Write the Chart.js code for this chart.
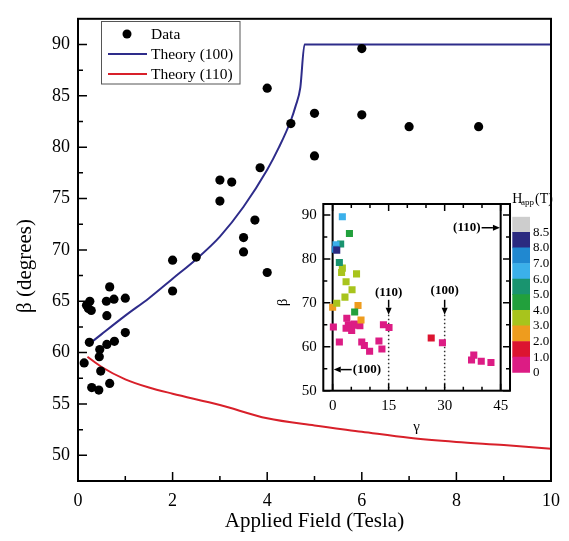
<!DOCTYPE html>
<html>
<head>
<meta charset="utf-8">
<script src="https://cdn.jsdelivr.net/npm/chart.js@4.4.0/dist/chart.umd.min.js"></script>
<style>
  body { margin: 0; background: #fff; }
  #wrap { position: relative; width: 569px; height: 541px; }
  canvas { position: absolute; }
</style>
</head>
<body>
<div id="wrap">
  <canvas id="main" width="569" height="541" style="left:0;top:0;width:569px;height:541px"></canvas>
  <canvas id="inset" width="245" height="255" style="left:270px;top:185px;width:245px;height:255px"></canvas>
  <canvas id="bar" width="69" height="200" style="left:500px;top:185px;width:69px;height:200px"></canvas>
</div>
<script>
// main plot: measured beta vs applied field
const fieldData = [0.13, 0.18, 0.22, 0.25, 0.28, 0.24, 0.29, 0.44, 0.46, 0.45, 0.48, 0.6, 0.61, 0.61, 0.67, 0.67, 0.76, 0.77, 1.0, 1.0,
  2.0, 2.0, 2.5, 3.0, 3.0, 3.25, 3.5, 3.5, 3.74, 3.85, 4.0, 4.0, 4.5, 5.0, 5.0, 6.0, 6.0, 7.0, 8.47];
const betaData = [59.0, 64.6, 64.3, 65.0, 64.1, 61.0, 56.6, 56.35, 60.3, 59.6, 58.2, 65.0, 63.6, 60.8, 66.4, 57.0, 65.2, 61.1, 65.3, 61.95,
  69.0, 66.0, 69.3, 76.8, 74.75, 76.6, 71.2, 69.8, 72.9, 78.0, 85.75, 67.8, 82.3, 83.3, 79.15, 89.6, 83.15, 82.0, 82.0];

// theory curves
const theory100Field = [0.2, 0.5, 1, 1.5, 2, 2.5, 3, 3.5, 4, 4.25, 4.5, 4.6, 4.7, 4.79, 10];
const theory100Beta = [60.7, 61.8, 63.6, 65.3, 67.2, 69.1, 71.3, 74.2, 77.8, 80.0, 82.6, 84.0, 85.8, 90, 90];
const theory110Field = [0.2, 0.5, 1, 1.5, 2, 3, 4, 5, 6, 7, 8, 9, 10];
const theory110Beta = [59.6, 58.6, 57.4, 56.6, 56.0, 54.9, 53.6, 52.9, 52.3, 51.7, 51.3, 51.0, 50.65];

const xTicks = [0, 2, 4, 6, 8, 10];
const xMinor = [1, 3, 5, 7, 9];
const yTicks = [50, 55, 60, 65, 70, 75, 80, 85, 90];
const yMinor = [47.5, 52.5, 57.5, 62.5, 67.5, 72.5, 77.5, 82.5, 87.5];

// inset: beta vs gamma, coloured by applied field
const gammaData = [0.2, 3.6, 5.1, 5.8, 7.3, 4.5, 4.2, 6.0, 3.8, 1.8, 7.8, 8.5, 9.9, 12.4, 13.2, 13.6, 15.1, 29.4, 37.8, 37.2, 39.8, 42.4,
  26.4, 0, 6.8, 7.6, 1.1, 3.3, 5.2, 3.6, 2.4, 6.4, 2.6, 5.9, 1.8, 2.15, 4.5, 2.6, 0.9, 0.7, 1.1];
const insetBeta = [64.5, 64.2, 63.7, 65.2, 64.8, 64.8, 65.0, 64.9, 66.5, 61.1, 61.1, 60.3, 59.0, 61.3, 59.5, 65.0, 64.4, 60.9, 58.1, 57.0, 56.7, 56.4,
  62.0, 69.0, 69.4, 66.1, 69.9, 71.3, 73.0, 74.8, 76.9, 76.6, 77.9, 67.9, 79.2, 83.4, 85.8, 89.6, 83.2, 82.2, 82.0];
const insetField = [0.25, 0.27, 0.61, 0.75, 0.6, 0.18, 0.22, 0.28, 0.69, 0.24, 0.77, 0.46, 0.13, 0.61, 0.45, 0.95, 0.25, 0.5, 0.48, 0.67, 0.29, 0.44,
  1.0, 2.0, 2.5, 2.0, 3.5, 3.5, 3.74, 3.0, 3.0, 3.25, 3.85, 4.0, 5.0, 5.0, 4.0, 6.0, 6.0, 7.0, 8.47];

const gammaTicks = [0, 15, 30, 45];
const gammaMinor = [5, 10, 20, 25, 35, 40];
const insetYTicks = [50, 60, 70, 80, 90];
const insetYMinor = [55, 65, 75, 85];

// colour bar bands (lower bound of each band)
const barLevels = [0, 1, 2, 3, 4, 5, 6, 7, 8, 8.5];
const barTickLabels = ['0', '1.0', '2.0', '3.0', '4.0', '5.0', '6.0', '7.0', '8.0', '8.5'];
const barColors = ['#DC1C84', '#DC1430', '#EE9C1E', '#A8C41C', '#22A03C', '#19946F', '#3BB0EA', '#2088D0', '#2B2A80', '#CDCDCD'];

const SERIF = "'Liberation Serif', 'Times New Roman', serif";
Chart.defaults.font.family = SERIF;
Chart.defaults.color = '#000';

function fieldColor(f) {
  let idx = 0;
  barLevels.forEach((lv, i) => { if (f >= lv) idx = i; });
  return barColors[idx];
}

function toPoints(xs, ys) {
  return xs.map((x, i) => ({ x: x, y: ys[i] }));
}

function fixedTicks(vals) {
  return (scale) => { scale.ticks = vals.map((v) => ({ value: v })); };
}

// inward tick marks, optionally mirrored on top/right
function innerTicks(chart, xs, ys, majLen, minLen, mirror) {
  const ctx = chart.ctx;
  const a = chart.chartArea;
  const sx = chart.scales.x;
  const sy = chart.scales.y;
  ctx.save();
  ctx.strokeStyle = '#000';
  ctx.lineWidth = 1.5;
  ctx.beginPath();
  [[xs[0], majLen], [xs[1], minLen]].forEach(([vals, len]) => {
    vals.forEach((v) => {
      const px = sx.getPixelForValue(v);
      ctx.moveTo(px, a.bottom); ctx.lineTo(px, a.bottom - len);
      if (mirror) { ctx.moveTo(px, a.top); ctx.lineTo(px, a.top + len); }
    });
  });
  [[ys[0], majLen], [ys[1], minLen]].forEach(([vals, len]) => {
    vals.forEach((v) => {
      const py = sy.getPixelForValue(v);
      ctx.moveTo(a.left, py); ctx.lineTo(a.left + len, py);
      if (mirror) { ctx.moveTo(a.right, py); ctx.lineTo(a.right - len, py); }
    });
  });
  ctx.stroke();
  ctx.lineWidth = 2;
  ctx.strokeRect(a.left, a.top, a.right - a.left, a.bottom - a.top);
  ctx.restore();
}

function arrow(ctx, x1, y1, x2, y2) {
  const ang = Math.atan2(y2 - y1, x2 - x1);
  const hl = 7, hw = 3;
  ctx.beginPath();
  ctx.moveTo(x1, y1);
  ctx.lineTo(x2 - hl * Math.cos(ang), y2 - hl * Math.sin(ang));
  ctx.stroke();
  ctx.beginPath();
  ctx.moveTo(x2, y2);
  ctx.lineTo(x2 - hl * Math.cos(ang) + hw * Math.sin(ang), y2 - hl * Math.sin(ang) - hw * Math.cos(ang));
  ctx.lineTo(x2 - hl * Math.cos(ang) - hw * Math.sin(ang), y2 - hl * Math.sin(ang) + hw * Math.cos(ang));
  ctx.closePath();
  ctx.fill();
}

// ---------- main chart ----------
const mainDecor = {
  id: 'mainDecor',
  afterDraw(chart) {
    const ctx = chart.ctx;
    const a = chart.chartArea;
    innerTicks(chart, [xTicks, xMinor], [yTicks, yMinor], 9, 5, false);

    // legend
    ctx.save();
    ctx.strokeStyle = '#555';
    ctx.lineWidth = 1;
    ctx.strokeRect(101.5, 21.5, 138.5, 62.5);
    ctx.font = '15.5px ' + SERIF;
    ctx.textBaseline = 'middle';
    ctx.fillStyle = '#000';
    chart.data.datasets.forEach((ds, i) => {
      const y = 34 + i * 20;
      if (ds.pointRadius > 0) {
        ctx.beginPath();
        ctx.arc(127, y, 4.5, 0, Math.PI * 2);
        ctx.fillStyle = ds.backgroundColor;
        ctx.fill();
      } else {
        ctx.strokeStyle = ds.borderColor;
        ctx.lineWidth = 2;
        ctx.beginPath();
        ctx.moveTo(108, y); ctx.lineTo(147, y);
        ctx.stroke();
      }
      ctx.fillStyle = '#000';
      ctx.fillText(ds.label, 151, y + 1);
    });

    // axis titles
    ctx.font = '21px ' + SERIF;
    ctx.textAlign = 'center';
    ctx.fillText('Applied Field (Tesla)', (a.left + a.right) / 2, 521);
    ctx.translate(25, 266);
    ctx.rotate(-Math.PI / 2);
    ctx.fillText('\u03B2 (degrees)', 0, 0);
    ctx.restore();
  }
};

new Chart(document.getElementById('main'), {
  type: 'scatter',
  data: {
    datasets: [
      { label: 'Data', data: toPoints(fieldData, betaData), backgroundColor: '#000', borderColor: '#000', pointRadius: 4.6, borderWidth: 0 },
      { label: 'Theory (100)', data: toPoints(theory100Field, theory100Beta), showLine: true, borderColor: '#2E2C8A', borderWidth: 2, pointRadius: 0, cubicInterpolationMode: 'monotone' },
      { label: 'Theory (110)', data: toPoints(theory110Field, theory110Beta), showLine: true, borderColor: '#D8202A', borderWidth: 2, pointRadius: 0, cubicInterpolationMode: 'monotone' }
    ]
  },
  options: {
    responsive: false,
    animation: false,
    layout: { padding: { left: 0, top: 6, right: 14, bottom: 0 }, autoPadding: false },
    plugins: { legend: { display: false }, tooltip: { enabled: false } },
    scales: {
      x: {
        type: 'linear', min: 0, max: 10,
        afterBuildTicks: fixedTicks(xTicks),
        afterFit: (s) => { s.height = 60; },
        grid: { display: false, drawTicks: false }, border: { display: false },
        ticks: { padding: 9, font: { size: 18 }, color: '#000' }
      },
      y: {
        type: 'linear', min: 47.5, max: 92.5,
        afterBuildTicks: fixedTicks(yTicks),
        afterFit: (s) => { s.width = 78; },
        grid: { display: false, drawTicks: false }, border: { display: false },
        ticks: { padding: 8, font: { size: 18 }, color: '#000' }
      }
    }
  },
  plugins: [mainDecor]
});

// ---------- inset ----------
const insetDecor = {
  id: 'insetDecor',
  afterDraw(chart) {
    const ctx = chart.ctx;
    const a = chart.chartArea;
    const sx = chart.scales.x;
    const sy = chart.scales.y;
    innerTicks(chart, [gammaTicks, gammaMinor], [insetYTicks, insetYMinor], 7, 4, true);

    ctx.save();
    ctx.fillStyle = '#000';
    ctx.strokeStyle = '#000';
    ctx.lineWidth = 1.5;
    ctx.font = 'bold 13px ' + SERIF;
    ctx.textBaseline = 'middle';
    ctx.textAlign = 'center';
    // down arrows at 15 and 30
    [[15, '(110)', 72.4], [30, '(100)', 72.8]].forEach(([g, txt, b]) => {
      const px = sx.getPixelForValue(g);
      ctx.fillText(txt, px, sy.getPixelForValue(b));
      arrow(ctx, px, sy.getPixelForValue(70.7), px, sy.getPixelForValue(67.3));
    });
    // side arrows
    const yl = sy.getPixelForValue(54.8);
    arrow(ctx, sx.getPixelForValue(5.1), yl, sx.getPixelForValue(0.3), yl);
    ctx.textAlign = 'left';
    ctx.fillText('(100)', sx.getPixelForValue(5.4), yl);
    const yr = sy.getPixelForValue(87.1);
    arrow(ctx, sx.getPixelForValue(39.9), yr, sx.getPixelForValue(44.8), yr);
    ctx.textAlign = 'right';
    ctx.fillText('(110)', sx.getPixelForValue(39.6), yr);

    // titles
    ctx.font = '15px ' + SERIF;
    ctx.textAlign = 'center';
    ctx.fillText('\u03B3', (a.left + a.right) / 2, 242);
    ctx.translate(13, (a.top + a.bottom) / 2 + 5);
    ctx.rotate(-Math.PI / 2);
    ctx.fillText('\u03B2', 0, 0);
    ctx.restore();
  }
};

new Chart(document.getElementById('inset'), {
  type: 'scatter',
  data: {
    datasets: [
      { data: toPoints(gammaData, insetBeta), pointStyle: 'rect', pointRadius: 5, borderWidth: 0,
        backgroundColor: insetField.map(fieldColor), borderColor: insetField.map(fieldColor) },
      { data: [{ x: 0, y: 40 }, { x: 0, y: 100 }], showLine: true, borderColor: '#000', borderWidth: 2, pointRadius: 0 },
      { data: [{ x: 45, y: 40 }, { x: 45, y: 100 }], showLine: true, borderColor: '#000', borderWidth: 2, pointRadius: 0 },
      { data: [{ x: 15, y: 67.3 }, { x: 15, y: 50 }], showLine: true, borderColor: '#333', borderWidth: 1.5, borderDash: [1.5, 2.5], pointRadius: 0 },
      { data: [{ x: 30, y: 67.3 }, { x: 30, y: 50 }], showLine: true, borderColor: '#333', borderWidth: 1.5, borderDash: [1.5, 2.5], pointRadius: 0 }
    ]
  },
  options: {
    responsive: false,
    animation: false,
    layout: { padding: { left: 0, top: 19, right: 5, bottom: 0 }, autoPadding: false },
    plugins: { legend: { display: false }, tooltip: { enabled: false } },
    scales: {
      x: {
        type: 'linear', min: -2.5, max: 47.5,
        afterBuildTicks: fixedTicks(gammaTicks),
        afterFit: (s) => { s.height = 49.3; },
        grid: { display: false, drawTicks: false }, border: { display: false },
        ticks: { padding: 6, font: { size: 15 }, color: '#000' }
      },
      y: {
        type: 'linear', min: 50, max: 92.5,
        afterBuildTicks: fixedTicks(insetYTicks),
        afterFit: (s) => { s.width = 53.3; },
        grid: { display: false, drawTicks: false }, border: { display: false },
        ticks: { padding: 6.5, font: { size: 15 }, color: '#000' }
      }
    }
  },
  plugins: [insetDecor]
});

// ---------- colour bar ----------
const barTitle = {
  id: 'barTitle',
  afterDraw(chart) {
    const ctx = chart.ctx;
    ctx.save();
    ctx.fillStyle = '#000';
    ctx.textBaseline = 'alphabetic';
    ctx.font = '14px ' + SERIF;
    ctx.fillText('H', 12.3, 17.7);
    ctx.font = '9px ' + SERIF;
    ctx.fillText('app', 21, 19.5);
    ctx.font = '14px ' + SERIF;
    ctx.fillText('(T)', 35, 17.7);
    ctx.restore();
  }
};

new Chart(document.getElementById('bar'), {
  type: 'bar',
  data: {
    labels: [''],
    datasets: barColors.map((c) => ({ data: [1], backgroundColor: c, borderWidth: 0, barPercentage: 1, categoryPercentage: 1 }))
  },
  options: {
    responsive: false,
    animation: false,
    layout: { padding: { left: 12.3, top: 31.7, right: 0, bottom: 12.3 }, autoPadding: false },
    plugins: { legend: { display: false }, tooltip: { enabled: false } },
    scales: {
      x: { stacked: true, display: false },
      y: {
        stacked: true, position: 'right', min: 0, max: 10,
        afterBuildTicks: fixedTicks(barTickLabels.map((_, i) => i)),
        afterFit: (s) => { s.width = 39; },
        grid: { display: false, drawTicks: false }, border: { display: false },
        ticks: { padding: 3, autoSkip: false, font: { size: 13 }, color: '#000', callback: (v, i) => barTickLabels[i] }
      }
    }
  },
  plugins: [barTitle]
});
</script>
</body>
</html>
